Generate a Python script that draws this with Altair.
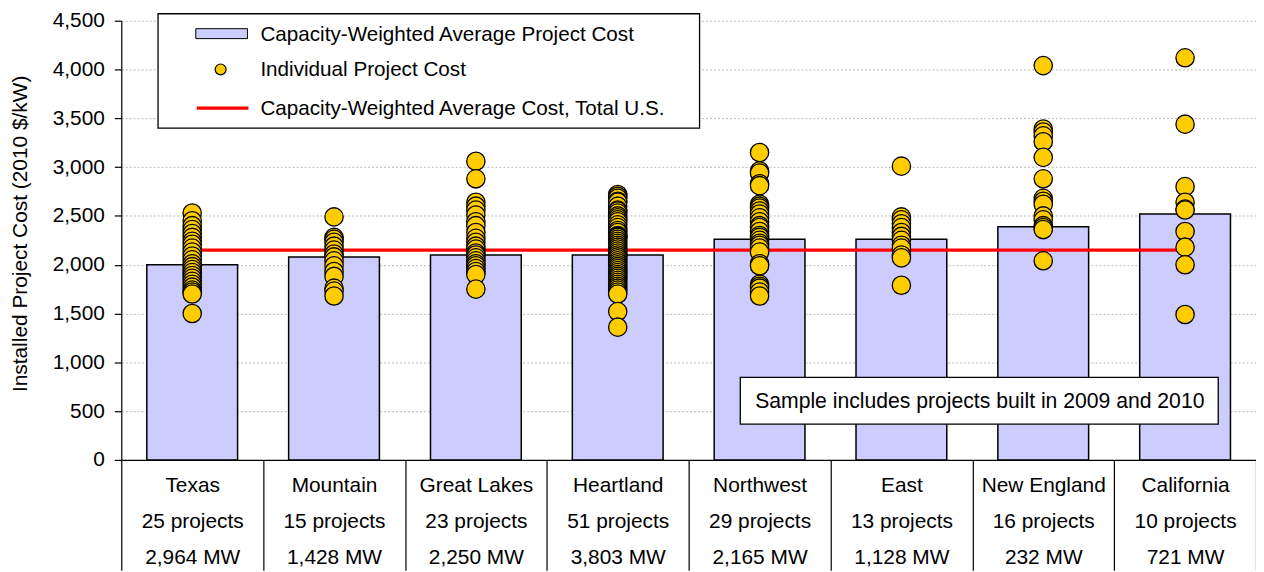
import altair as alt
import pandas as pd

# ---------------- data ----------------
regions = ["Texas", "Mountain", "Great Lakes", "Heartland",
           "Northwest", "East", "New England", "California"]
n_projects = [25, 15, 23, 51, 29, 13, 16, 10]
capacity_mw = ["2,964", "1,428", "2,250", "3,803", "2,165", "1,128", "232", "721"]
avg_cost = [2000, 2080, 2100, 2100, 2260, 2260, 2390, 2520]
us_avg_cost = 2150

texas = [2530, 2450, 2400, 2360, 2320, 2280, 2240, 2210, 2170, 2130, 2090, 2050,
         2010, 1980, 1950, 1920, 1890, 1860, 1830, 1800, 1770, 1740, 1720, 1700, 1500]
mountain = [2490, 2280, 2260, 2230, 2190, 2150, 2110, 2080, 2040, 1990, 1930,
            1880, 1760, 1730, 1680]
great_lakes = [3060, 2880, 2640, 2600, 2560, 2510, 2440, 2400, 2330, 2270, 2230,
               2190, 2160, 2120, 2100, 2070, 2040, 2010, 1990, 1960, 1930, 1900, 1750]
heartland = [2720, 2700, 2680, 2650, 2640, 2600, 2560, 2550, 2530, 2500, 2480,
             2460, 2440, 2410, 2380, 2350, 2330, 2300, 2290, 2280, 2260, 2240,
             2220, 2200, 2180, 2160, 2140, 2120, 2100, 2080, 2060, 2040, 2020,
             2000, 1980, 1960, 1940, 1920, 1900, 1880, 1860, 1840, 1820, 1800,
             1780, 1760, 1740, 1720, 1700, 1520, 1360]
northwest = [3150, 2960, 2940, 2830, 2810, 2620, 2600, 2580, 2550, 2520, 2480,
             2440, 2400, 2380, 2340, 2300, 2280, 2250, 2220, 2200, 2170, 2130,
             2010, 1990, 1800, 1780, 1760, 1720, 1680]
east = [3010, 2490, 2460, 2420, 2380, 2330, 2290, 2250, 2200, 2170, 2100, 2070, 1790]
new_england = [4040, 3390, 3360, 3320, 3260, 3100, 2880, 2680, 2650, 2620, 2500,
               2460, 2400, 2380, 2360, 2040]
california = [4120, 3440, 2800, 2640, 2570, 2560, 2340, 2180, 2000, 1490]

project_costs = [texas, mountain, great_lakes, heartland,
                 northwest, east, new_england, california]

legend_labels = ["Capacity-Weighted Average Project Cost",
                 "Individual Project Cost",
                 "Capacity-Weighted Average Cost, Total U.S."]
note_text = "Sample includes projects built in 2009 and 2010"
y_title = "Installed Project Cost (2010 $/kW)"

# ---------------- tables ----------------
cats = [f"{r}|{n} projects|{mw} MW" for r, n, mw in zip(regions, n_projects, capacity_mw)]
bars_df = pd.DataFrame({"cat": cats, "cost": avg_cost, "us": [us_avg_cost] * len(cats)})
pts_df = pd.DataFrame([{"cat": c, "cost": v} for c, vals in zip(cats, project_costs) for v in vals])

FONT = "Liberation Sans"
FS = 21
W, H = 1142, 442

xscale = alt.Scale(domain=cats, paddingInner=0, paddingOuter=0)
yscale = alt.Scale(domain=[0, 4500], nice=False)

x_axis = alt.Axis(
    title=None, labelAngle=0, labelExpr="split(datum.label, '|')",
    labelLineHeight=36, labelFontSize=FS, labelFont=FONT, labelColor="black",
    labelBaseline="top", labelPadding=-96,
    tickBand="extent", tickSize=111, tickColor="black", tickWidth=1.2,
    domainColor="black", domainWidth=1.2, grid=False, labelOverlap=False,
)
y_axis = alt.Axis(
    title=y_title, values=list(range(0, 4501, 500)), format=",d",
    labelFontSize=FS, labelFont=FONT, labelColor="black", labelPadding=10,
    tickSize=7, tickColor="black", tickWidth=1.2, domainColor="black", domainWidth=1.2,
    titleFont=FONT, titleFontSize=FS, titleFontWeight="normal", titleColor="black",
    titleX=-101, titleY=H / 2 - 7, titleAngle=-90, titleAlign="center", titleBaseline="middle",
    grid=True, gridColor="#b8b8b8", gridDash=[2, 2], gridWidth=1,
)

bars = alt.Chart(bars_df).mark_bar(
    color="#CCCCFF", stroke="black", strokeWidth=1.5, width=alt.RelativeBandSize(0.64)
).encode(
    x=alt.X("cat:N", scale=xscale, axis=x_axis, sort=cats),
    y=alt.Y("cost:Q", scale=yscale, axis=y_axis),
)

line = alt.Chart(bars_df).mark_line(color="#FF0000", strokeWidth=3.3).encode(
    x=alt.X("cat:N", scale=xscale, sort=cats),
    y=alt.Y("us:Q", scale=yscale),
)

points = alt.Chart(pts_df).mark_point(
    shape="circle", filled=True, fill="#FFCC00", stroke="black",
    strokeWidth=1.3, size=340, opacity=1
).encode(
    x=alt.X("cat:N", scale=xscale, sort=cats),
    y=alt.Y("cost:Q", scale=yscale),
)

one = alt.Data(values=[{}])

# legend
leg_box = alt.Chart(one).mark_rect(fill="white", stroke="black", strokeWidth=1.3).encode(
    x=alt.value(37), x2=alt.value(582), y=alt.value(-7), y2=alt.value(108))
leg_bar = alt.Chart(one).mark_rect(fill="#CCCCFF", stroke="black", strokeWidth=1).encode(
    x=alt.value(75), x2=alt.value(127), y=alt.value(8), y2=alt.value(18))
leg_pt = alt.Chart(one).mark_point(shape="circle", filled=True, fill="#FFCC00",
                                   stroke="black", strokeWidth=1.2, size=120, opacity=1).encode(
    x=alt.value(100), y=alt.value(49))
leg_line = alt.Chart(one).mark_rule(color="#FF0000", strokeWidth=3.3).encode(
    x=alt.value(76), x2=alt.value(128), y=alt.value(88))
leg_texts = []
for lbl, ypix in zip(legend_labels, [14, 50, 89]):
    leg_texts.append(
        alt.Chart(pd.DataFrame({"t": [lbl]})).mark_text(
            align="left", baseline="middle", font=FONT, fontSize=20.8, color="black"
        ).encode(x=alt.value(140), y=alt.value(ypix), text="t:N")
    )

# note box
note_box = alt.Chart(one).mark_rect(fill="white", stroke="black", strokeWidth=1.3).encode(
    x=alt.value(623), x2=alt.value(1104), y=alt.value(359), y2=alt.value(406))
note = alt.Chart(pd.DataFrame({"t": [note_text]})).mark_text(
    align="center", baseline="middle", font=FONT, fontSize=21.3, color="black"
).encode(x=alt.value(864), y=alt.value(384), text="t:N")

chart = alt.layer(
    bars, line, points, leg_box, leg_bar, leg_pt, leg_line, *leg_texts, note_box, note
).properties(
    width=W, height=H,
    autosize=alt.AutoSizeParams(type="none"),
    padding={"left": 114, "top": 11, "right": 0, "bottom": 111},
    background="white",
).configure_view(stroke=None)

chart.save("out.html", embed_options={"renderer": "svg", "actions": False})
